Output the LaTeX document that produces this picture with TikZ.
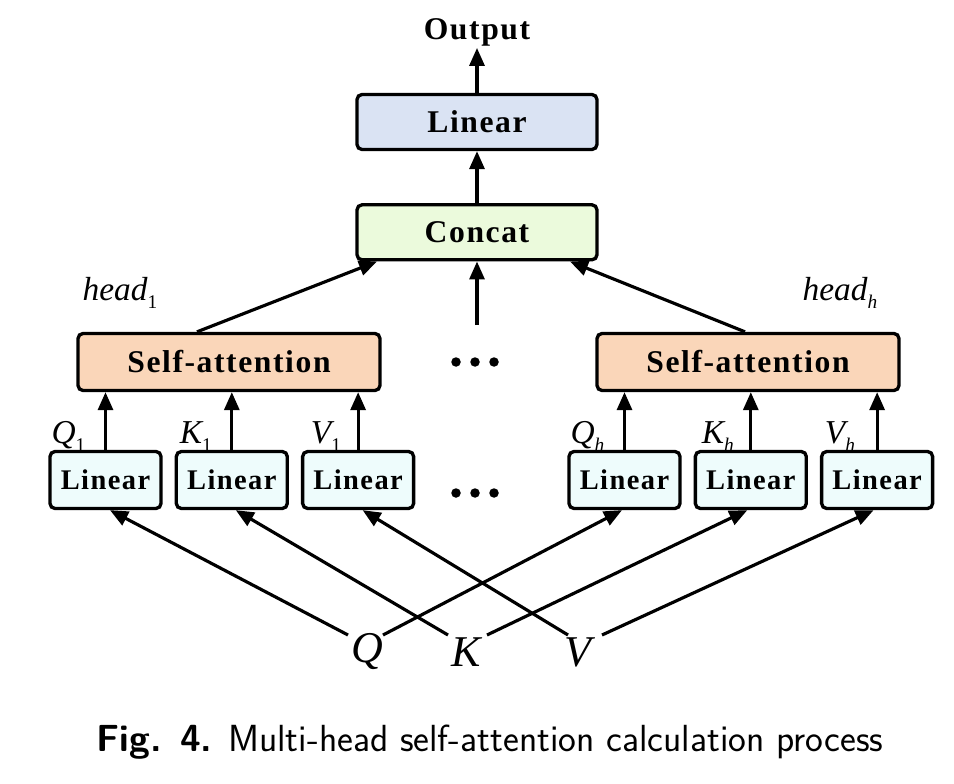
\documentclass[tikz,border=0pt]{standalone}
\usepackage{fontspec}
\newfontfamily\boxfont[LetterSpace=5]{Liberation Serif}
\newfontfamily\labelfont{Liberation Serif}
\usetikzlibrary{positioning, arrows.meta}
\definecolor{linblue}{RGB}{218,227,243}
\definecolor{catgreen}{RGB}{235,250,220}
\definecolor{attpeach}{RGB}{250,214,185}
\definecolor{lincyan}{RGB}{238,252,252}
\newcommand\lowidx[1]{\raisebox{-0.5ex}{\fontsize{11}{12}\selectfont #1}}
\tikzstyle{block} = [rectangle, rounded corners=0.1cm, 
minimum width=4.8cm, minimum height=1.1cm, text centered, 
draw=black, line width=1.9pt, 
font=\boxfont\bfseries\fontsize{18}{20}\selectfont]
\tikzstyle{attn} = [block, minimum width=6.04cm, 
minimum height=1.14cm, fill=attpeach]
\tikzstyle{proj} = [block, minimum width=2.22cm, 
minimum height=1.14cm, fill=lincyan, 
font=\boxfont\bfseries\fontsize{16.2}{18}\selectfont]
\tikzstyle{arrow} = [line width=1.8pt, 
-{Triangle[length=0.36cm, width=0.3cm]}]
\tikzstyle{lbl} = [font=\labelfont\itshape\fontsize{19}{21}\selectfont, 
inner sep=1pt]
\tikzstyle{qkv} = [font=\labelfont\itshape\fontsize{25}{27}\selectfont, 
inner sep=1pt]

\begin{document}
\begin{tikzpicture}[x=0.02cm, y=-0.02cm]
\useasboundingbox (0,0) rectangle (954,784);

\node (out) at (477,32) [inner sep=1pt, 
font=\boxfont\bfseries\fontsize{18}{20}\selectfont] {Output};

\node (lin) at (477,122) [block, fill=linblue] {Linear};

\node (cat) [block, fill=catgreen, below=1.04cm of lin] {Concat};

\node (sa1) at (229,362) [attn] {Self-attention};
\node (sa2) at (748,362) [attn] {Self-attention};

\node (l1) at (105.5,480) [proj] {Linear};
\node (l2) [proj, right=0.24cm of l1] {Linear};
\node (l3) [proj, right=0.24cm of l2] {Linear};

\node (l4) at (624.5,480) [proj] {Linear};
\node (l5) [proj, right=0.24cm of l4] {Linear};
\node (l6) [proj, right=0.24cm of l5] {Linear};

\node (h1) at (120,293) [lbl] {head\lowidx{\upshape 1}};
\node (hh) at (840,293) [lbl] {head\lowidx{h}};

\node (q1) [lbl, anchor=base east] at ([xshift=-0.36cm, yshift=0.12cm]l1.north) 
{Q\lowidx{\upshape 1}};
\node (k1) [lbl, anchor=base east] at ([xshift=-0.36cm, yshift=0.12cm]l2.north) 
{K\lowidx{\upshape 1}};
\node (v1) [lbl, anchor=base east] at ([xshift=-0.3cm, yshift=0.12cm]l3.north) 
{V\lowidx{\upshape 1}};
\node (qh) [lbl, anchor=base east] at ([xshift=-0.36cm, yshift=0.12cm]l4.north) 
{Q\lowidx{h}};
\node (kh) [lbl, anchor=base east] at ([xshift=-0.3cm, yshift=0.12cm]l5.north) 
{K\lowidx{h}};
\node (vh) [lbl, anchor=base east] at ([xshift=-0.4cm, yshift=0.12cm]l6.north) 
{V\lowidx{h}};

\node (q) at (367,652) [qkv] {Q};
\node (k) at (466,652) [qkv] {K};
\node (v) at (578,652) [qkv] {V};

\coordinate (mid) at (477,325);

% dots between the heads
\foreach \dx in {-19,0,19} {
  \fill (475+\dx,362) circle (0.095cm);
  \fill (475+\dx,493) circle (0.095cm);
}

\draw [arrow] (lin.north) -- (out.south);
\draw [arrow] (cat.north) -- (lin.south);
\draw [arrow] (mid) -- (cat.south);
\draw [arrow] ([xshift=-0.64cm]sa1.north) -- ([xshift=-2cm]cat.south);
\draw [arrow] ([xshift=-0.06cm]sa2.north) -- ([xshift=1.86cm]cat.south);

\foreach \n/\s in {l1/sa1, l2/sa1, l3/sa1, l4/sa2, l5/sa2, l6/sa2}
  \draw [arrow] (\n.north) -- (\n.north |- \s.south);

\draw [arrow] ([shift={(-19,-17)}]q.center) -- ([xshift=0.09cm]l1.south);
\draw [arrow] ([shift={(16,-17)}]q.center) -- ([xshift=-0.05cm]l4.south);
\draw [arrow] ([shift={(-18,-17)}]k.center) -- ([xshift=0.08cm]l2.south);
\draw [arrow] ([shift={(21,-17)}]k.center) -- ([xshift=-0.07cm]l5.south);
\draw [arrow] ([shift={(-10,-17)}]v.center) -- ([xshift=0.09cm]l3.south);
\draw [arrow] ([shift={(24,-17)}]v.center) -- ([xshift=-0.07cm]l6.south);

\node (cap) at (490,742) [font=\sffamily\fontsize{21.5}{24}\selectfont] 
{\textbf{Fig. 4.} Multi-head self-attention calculation process};

\end{tikzpicture}
\end{document}
